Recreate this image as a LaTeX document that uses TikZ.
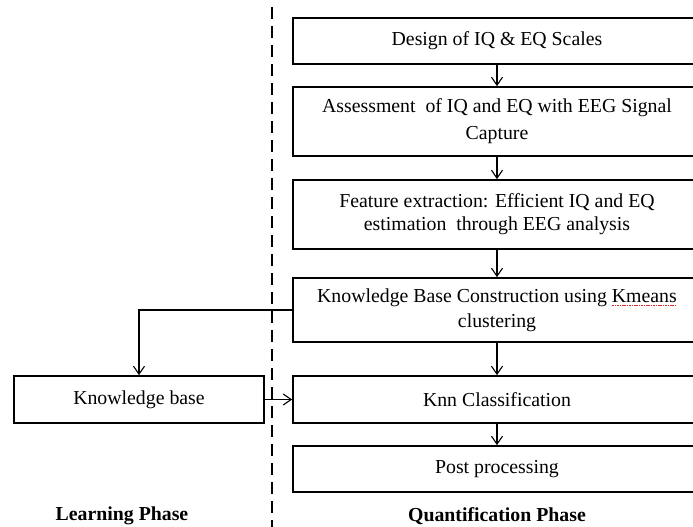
\documentclass[tikz,border=0pt]{standalone}
\usepackage{fontspec}
\setmainfont{Liberation Serif}
\usetikzlibrary{arrows.meta}
\definecolor{spellred}{RGB}{220,40,40}
\newsavebox\wbox
\newcommand\spellerr[1]{\sbox\wbox{#1}\usebox\wbox\llap{\color{spellred}\raisebox{-3.5pt}{\hbox to \wd\wbox{\xleaders\hbox to 2.4pt{\hss\rule{1.5pt}{0.8pt}\hss}\hfill}}}}
\begin{document}
\begin{tikzpicture}[x=1pt,y=-1pt,
 box/.style={draw, line width=1.7pt, inner sep=0pt, align=center, minimum width=408pt},
 txt/.style={font=\fontsize{19.8}{26}\selectfont},
 flow/.style={line width=1.1pt, -{Straight Barb[length=8pt,width=11pt,line width=1.1pt]}},
 phase/.style={font=\fontsize{19.8}{24}\selectfont\bfseries}]
\useasboundingbox (0,0) rectangle (693,527);
\draw[dash pattern=on 12pt off 7pt, line width=1.3pt] (272,7) -- (272,527);
\node[box, txt, minimum height=46pt] (b1) at (497,41) {Design of IQ \& EQ Scales};
\node[box, txt, font=\fontsize{19.8}{27}\selectfont, minimum height=69pt] (b2) at (497,121.5) {Assessment\ \ of IQ and EQ with EEG Signal\\Capture};
\node[box, txt, font=\fontsize{19.8}{23}\selectfont, minimum height=69pt] (b3) at (497,214.5) {Feature extraction: Efficient IQ and EQ\\estimation\ \ through EEG analysis};
\node[box, txt, font=\fontsize{19.8}{25}\selectfont, minimum height=64pt] (b4) at (497,310) {Knowledge Base Construction using \spellerr{Kmeans}\\clustering};
\node[box, txt, minimum height=47pt] (b5) at (497,399.5) {Knn Classification};
\node[box, txt, minimum height=46pt] (b6) at (497,469) {Post processing};
\node[box, txt, minimum width=250pt, minimum height=47pt] (kb) at (139,399.5) {Knowledge base};
\node[phase] (lp) at (122,516) {Learning Phase};
\node[phase] (qp) at (497,516) {Quantification Phase};
\draw[flow] (b1) -- (b2);
\draw[flow] (b2) -- (b3);
\draw[flow] (b3) -- (b4);
\draw[flow] (b4) -- (b5);
\draw[flow] (b5) -- (b6);
\draw[flow, line width=1.6pt] (b4.west) -| (kb.north);
\draw[flow] (kb.east) -- (b5.west);
\end{tikzpicture}
\end{document}
